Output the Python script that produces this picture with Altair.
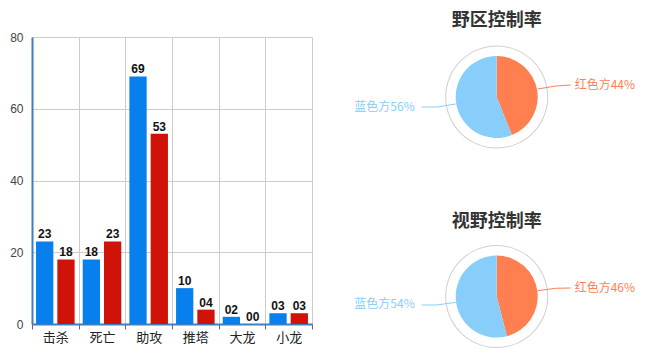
import altair as alt
import pandas as pd

# ---------------- data ----------------
categories = ["击杀", "死亡", "助攻", "推塔", "大龙", "小龙"]
teams = ["蓝方", "红方"]
blue_values = [23, 18, 69, 10, 2, 3]
red_values = [18, 23, 53, 4, 0, 3]
y_ticks = [0, 20, 40, 60, 80]

pie_titles = ["野区控制率", "视野控制率"]
pie_sides = ["红色方", "蓝色方"]
jungle_pct = [44, 56]
vision_pct = [46, 54]

bar_df = pd.DataFrame({
    "category": categories * 2,
    "team": [teams[0]] * len(categories) + [teams[1]] * len(categories),
    "value": blue_values + red_values,
})

pie_df = pd.DataFrame({
    "chart": [pie_titles[0]] * 2 + [pie_titles[1]] * 2,
    "side": pie_sides * 2,
    "pct": jungle_pct + vision_pct,
    "ord": [0, 1, 0, 1],
})
pie_df["label"] = pie_df["side"] + pie_df["pct"].astype(str) + "%"

# ---------------- styles ----------------
BAR_COLORS = ["#0780ee", "#cf1309"]
PIE_COLORS = ["#ff7f50", "#87cefa"]
AXIS_BLUE = "#3d7fc1"
CJK = "Noto Sans CJK SC"

x_enc = alt.X("category:N", sort=categories,
              scale=alt.Scale(paddingInner=0, paddingOuter=0),
              axis=alt.Axis(title=None, tickBand="extent", labelAngle=0,
                            domainColor=AXIS_BLUE, domainWidth=2,
                            gridColor="#cccccc", grid=True,
                            tickColor="#666666", tickSize=5,
                            labelFont=CJK, labelFontSize=13, labelColor="#222222",
                            labelPadding=2))
xoff_enc = alt.XOffset("team:N", sort=teams,
                       scale=alt.Scale(paddingInner=0.188, paddingOuter=0.19))
y_enc = alt.Y("value:Q", scale=alt.Scale(domain=[0, 80], nice=False),
              axis=alt.Axis(title=None, values=y_ticks, ticks=False,
                            domainColor=AXIS_BLUE, domainWidth=2,
                            gridColor="#cccccc", labelPadding=9,
                            labelFont="Liberation Sans", labelFontSize=12,
                            labelColor="#444444"))

bars = alt.Chart(bar_df).mark_bar().encode(
    x=x_enc, xOffset=xoff_enc, y=y_enc,
    color=alt.Color("team:N", scale=alt.Scale(domain=teams, range=BAR_COLORS), legend=None),
)

bar_text = alt.Chart(bar_df).mark_text(
    dy=-3, baseline="alphabetic", fontWeight="bold", fontSize=12,
    font="Liberation Sans", color="#111111"
).encode(
    x=x_enc, xOffset=xoff_enc, y=y_enc,
    text=alt.Text("value:Q", format="02d"),
)

layers = [bars, bar_text]

# pie layout (pixel positions relative to plot origin)
CX = 464.7
centers_y = [60, 259.5]
title_y = [-16.3, 184.7]
label_y = {0: (48, 70), 1: (251, 267)}
leader = {
    0: {"红色方": [(505.7, 52, 523.7, 49), (523.7, 49, 538.7, 48)],
        "蓝色方": [(423.7, 67, 404.7, 70), (404.7, 70, 389.7, 70)]},
    1: {"红色方": [(505.7, 253.7, 523.7, 251.3), (523.7, 251.3, 538.7, 251)],
        "蓝色方": [(423.7, 265.3, 404.7, 268), (404.7, 268, 389.7, 268)]},
}

for i, title in enumerate(pie_titles):
    cy = centers_y[i]
    one = pd.DataFrame({"chart": [title]})

    ring = alt.Chart(one).mark_arc(
        radius=51.5, radius2=50.5, theta=0, theta2=6.2832, color="#d0d0d0"
    ).encode(x=alt.value(CX), y=alt.value(cy))

    arc = alt.Chart(pie_df).transform_filter(alt.datum.chart == title).mark_arc(
        radius=41
    ).encode(
        theta=alt.Theta("pct:Q", stack=True),
        color=alt.Color("side:N", scale=alt.Scale(domain=pie_sides, range=PIE_COLORS), legend=None),
        order=alt.Order("ord:Q"),
        x=alt.value(CX), y=alt.value(cy),
    )

    ttl = alt.Chart(one).mark_text(
        fontSize=18, fontWeight="bold", font=CJK, color="#333333", baseline="middle"
    ).encode(text="chart:N", x=alt.value(CX), y=alt.value(title_y[i]))

    layers += [ring, arc, ttl]

    for j, side in enumerate(pie_sides):
        col = PIE_COLORS[j]
        if side == "红色方":
            lx, align = 542.7, "left"
            ly = label_y[i][0]
        else:
            lx, align = 382.7, "right"
            ly = label_y[i][1]
        lab = alt.Chart(pie_df).transform_filter(
            (alt.datum.chart == title) & (alt.datum.side == side)
        ).mark_text(fontSize=12, font=CJK, color=col, align=align, baseline="middle").encode(
            text="label:N", x=alt.value(lx), y=alt.value(ly)
        )
        layers.append(lab)
        for (x1, y1, x2, y2) in leader[i][side]:
            seg = alt.Chart(one).mark_rule(color=col, strokeWidth=1).encode(
                x=alt.value(x1), y=alt.value(y1), x2=alt.value(x2), y2=alt.value(y2)
            )
            layers.append(seg)

chart = alt.layer(*layers).resolve_scale(
    color="independent", theta="independent"
).properties(
    width=280, height=287,
    autosize=alt.AutoSizeParams(type="none"),
    padding={"left": 24, "top": 29, "right": 330, "bottom": 24},
).configure_view(stroke=None)

chart.save("out.html", embed_options={"renderer": "svg", "actions": False})
